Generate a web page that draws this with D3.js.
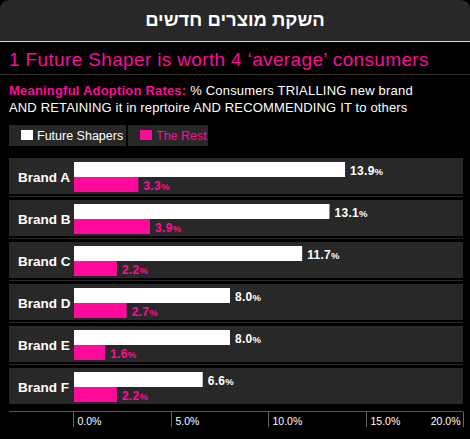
<!DOCTYPE html>
<html>
<head>
<meta charset="utf-8">
<script src="https://cdn.jsdelivr.net/npm/d3@7"></script>
<style>
  body { margin: 0; background: #000; }
  svg { display: block; font-family: "Liberation Sans", Arial, sans-serif; }
</style>
</head>
<body>
<script>
var width = 470,
    height = 439;

var brands = ["Brand A", "Brand B", "Brand C", "Brand D", "Brand E", "Brand F"];
var shapers = [13.9, 13.1, 11.7, 8.0, 8.0, 6.6];
var rest = [3.3, 3.9, 2.2, 2.7, 1.6, 2.2];
var ticks = [0, 5, 10, 15, 20];

var pink = "#ff0a9a",
    panel = "#282828";

var svg = d3.select("body").append("svg")
    .attr("width", width)
    .attr("height", height);

svg.append("rect").attr("width", width).attr("height", height).attr("fill", "#000");

// header with rounded top corners
svg.append("path")
    .attr("d", "M0,41 L0,10 Q0,0 10,0 L460,0 Q470,0 470,10 L470,41 Z")
    .attr("fill", panel);
svg.append("line")
    .attr("x1", 0).attr("x2", width).attr("y1", 41.5).attr("y2", 41.5)
    .attr("stroke", "#d8d8d8").attr("stroke-width", 1);
svg.append("text")
    .attr("x", width / 2).attr("y", 26)
    .attr("text-anchor", "middle")
    .attr("direction", "rtl")
    .style("font-size", "18.5px").style("font-weight", "bold")
    .attr("fill", "#fff")
    .text("השקת מוצרים חדשים");

svg.append("text")
    .attr("x", 9).attr("y", 66)
    .style("font-size", "19px").style("letter-spacing", "0.35px")
    .attr("fill", pink)
    .text("1 Future Shaper is worth 4 \u2018average\u2019 consumers");
svg.append("line")
    .attr("x1", 0).attr("x2", width).attr("y1", 74.5).attr("y2", 74.5)
    .attr("stroke", "#2e2e2e");

var sub = svg.append("text")
    .attr("x", 9).attr("y", 95)
    .style("font-size", "13px").style("letter-spacing", "0.2px")
    .attr("fill", "#fff");
sub.append("tspan").attr("fill", pink).style("font-weight", "bold").text("Meaningful Adoption Rates:");
sub.append("tspan").text(" % Consumers TRIALLING new brand");
svg.append("text")
    .attr("x", 9).attr("y", 112)
    .style("font-size", "13px").style("letter-spacing", "0.15px")
    .attr("fill", "#fff")
    .text("AND RETAINING it in reprtoire AND RECOMMENDING IT to others");

// legend
var legend = [
    {name: "Future Shapers", color: "#fff", x: 9, w: 117},
    {name: "The Rest", color: pink, x: 128, w: 80}
];
var lg = svg.selectAll(".legend")
    .data(legend)
    .enter().append("g")
    .attr("class", "legend")
    .attr("transform", function(d) { return "translate(" + d.x + ",125)"; });
lg.append("rect").attr("width", function(d) { return d.w; }).attr("height", 21).attr("fill", panel);
lg.append("rect").attr("x", 12).attr("y", 5).attr("width", 12).attr("height", 10)
    .attr("fill", function(d) { return d.color; });
lg.append("text").attr("x", 28).attr("y", 15)
    .style("font-size", "12.5px")
    .attr("fill", function(d) { return d.color; })
    .text(function(d) { return d.name; });

// scales
var x = d3.scaleLinear().domain([0, 20]).range([74, 464]);
var y = d3.scaleBand().domain(brands).range([158, 410]).paddingInner(0);

var rowH = 36;

var row = svg.selectAll(".row")
    .data(brands)
    .enter().append("g")
    .attr("class", "row")
    .attr("transform", function(d) { return "translate(0," + y(d) + ")"; });

row.append("rect")
    .attr("x", 9).attr("width", 454).attr("height", rowH)
    .attr("fill", panel);
row.filter(function(d, i) { return i > 0; })
    .append("line")
    .attr("x1", 9).attr("x2", 463).attr("y1", -3.5).attr("y2", -3.5)
    .attr("stroke", "#2a2a2a");

row.append("text")
    .attr("x", 18).attr("y", 24)
    .style("font-size", "13.5px").style("font-weight", "bold")
    .attr("fill", "#fff")
    .text(function(d) { return d; });

function valueLabel(sel, vals, dy, color) {
    var t = sel.append("text")
        .attr("x", function(d, i) { return x(vals[i]) + 5; })
        .attr("y", dy)
        .style("font-size", "12px").style("font-weight", "bold")
        .style("letter-spacing", "0.3px")
        .attr("fill", color);
    t.append("tspan").text(function(d, i) { return vals[i].toFixed(1); });
    t.append("tspan").style("font-size", "9.5px").text("%");
}

row.append("rect")
    .attr("x", x(0))
    .attr("y", 4)
    .attr("height", 15)
    .attr("width", function(d, i) { return x(shapers[i]) - x(0); })
    .attr("fill", "#fff");
row.append("rect")
    .attr("x", x(0))
    .attr("y", 19)
    .attr("height", 15)
    .attr("width", function(d, i) { return x(rest[i]) - x(0); })
    .attr("fill", pink);

valueLabel(row, shapers, 17, "#fff");
valueLabel(row, rest, 32, pink);

// axis
var axis = svg.append("g");
axis.append("line")
    .attr("x1", 9).attr("x2", 463).attr("y1", 411.5).attr("y2", 411.5)
    .attr("stroke", "#555");
var tk = axis.selectAll(".tick")
    .data(ticks)
    .enter().append("g")
    .attr("class", "tick")
    .attr("transform", function(d) { return "translate(" + (Math.round(x(d)) - 0.5) + ",0)"; });
tk.append("line")
    .attr("y1", 412).attr("y2", 427)
    .attr("stroke", "#666");
tk.append("text")
    .attr("x", function(d, i) { return i === ticks.length - 1 ? -3 : 4; })
    .attr("y", 425)
    .attr("text-anchor", function(d, i) { return i === ticks.length - 1 ? "end" : "start"; })
    .style("font-size", "10.5px")
    .attr("fill", "#fff")
    .text(function(d) { return d.toFixed(1) + "%"; });
</script>
</body>
</html>
